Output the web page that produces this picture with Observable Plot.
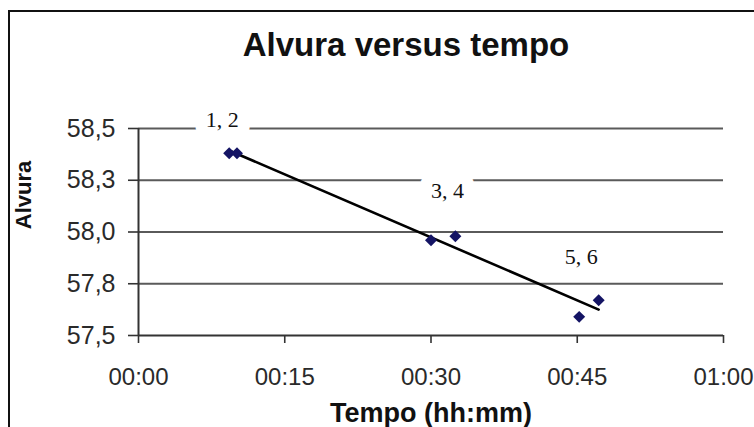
<!DOCTYPE html>
<html>
<head>
<meta charset="utf-8">
<script src="https://cdn.jsdelivr.net/npm/d3@7"></script>
<script src="https://cdn.jsdelivr.net/npm/@observablehq/plot@0.6"></script>
<style>
  html, body { margin: 0; padding: 0; background: #fff; overflow: hidden; }
  #wrap { position: relative; width: 754px; height: 427px; overflow: hidden; font-family: "Liberation Sans", Arial, sans-serif; }
  #frame { position: absolute; left: 8px; top: 10px; width: 900px; height: 600px; border-left: 2px solid #111; border-top: 2px solid #111; pointer-events: none; }
  #title { box-sizing: border-box; height: 72px; padding-top: 28px; width: 812px; text-align: center; font-size: 33px; line-height: 33px; font-weight: bold; color: #111; margin: 0; }
  svg { display: block; }
</style>
</head>
<body>
<div id="wrap">
  <div id="title">Alvura versus tempo</div>
  <div id="chart"></div>
  <div id="frame"></div>
</div>
<script>
// Data (time in minutes since 00:00, brightness "Alvura")
const tempoMin = [9.3, 10.1, 30.0, 32.5, 45.2, 47.2];
const alvura   = [58.38, 58.38, 57.96, 57.98, 57.59, 57.67];

// Point-pair labels
const labelText = ["1, 2", "3, 4", "5, 6"];
const labelX    = [8.6, 31.7, 45.4];
const labelY    = [58.54, 58.20, 57.88];

// Axis ticks
const xTicks      = [0, 15, 30, 45, 60];
const xTickLabels = ["00:00", "00:15", "00:30", "00:45", "01:00"];
const yTicks      = [57.5, 57.75, 58.0, 58.25, 58.5];
const yTickLabels = ["57,5", "57,8", "58,0", "58,3", "58,5"];

const points = tempoMin.map((t, i) => ({t, a: alvura[i]}));
const labels = labelText.map((s, i) => ({s, x: labelX[i], y: labelY[i]}));

const font = "'Liberation Sans', Arial, sans-serif";

const chart = Plot.plot({
  width: 754,
  height: 355,
  marginLeft: 138,
  marginRight: 31,
  marginTop: 56,
  marginBottom: 92,
  style: {fontFamily: font, background: "white", overflow: "visible"},
  x: {domain: [0, 60]},
  y: {domain: [57.5, 58.5]},
  marks: [
    Plot.ruleY(yTicks.slice(1), {stroke: "#5a5a5a", strokeWidth: 1.8}),
    Plot.ruleY([57.5], {stroke: "#333", strokeWidth: 2}),
    Plot.ruleX([0], {stroke: "#333", strokeWidth: 2}),
    Plot.axisX({
      ticks: xTicks,
      tickFormat: (d) => xTickLabels[xTicks.indexOf(d)],
      tickSize: 8, tickPadding: 24,
      stroke: "#333", strokeWidth: 1.6,
      fontSize: 24, fill: "#2a2a2a",
      label: null
    }),
    Plot.axisY({
      ticks: yTicks,
      tickFormat: (d) => yTickLabels[yTicks.indexOf(d)],
      tickSize: 10, tickPadding: 13,
      stroke: "#333", strokeWidth: 1.6,
      fontSize: 25, fill: "#2a2a2a",
      label: null
    }),
    Plot.text(["Tempo (hh:mm)"], {
      frameAnchor: "bottom", lineAnchor: "middle", dy: 78,
      fontSize: 27, fontWeight: "bold", fill: "#111"
    }),
    Plot.text(["Alvura"], {
      frameAnchor: "left", rotate: -90, lineAnchor: "middle", textAnchor: "middle",
      dx: -115, dy: -37, fontSize: 22, fontWeight: "bold", fill: "#111"
    }),
    Plot.text(labels, {
      x: "x", y: "y", text: "s",
      fontFamily: "'Liberation Serif', 'Times New Roman', serif",
      fontSize: 22, fill: "#111",
      stroke: "white", strokeWidth: 24, strokeLinejoin: "round", paintOrder: "stroke",
      lineAnchor: "middle"
    }),
    Plot.linearRegressionY(points, {x: "t", y: "a", stroke: "#000", strokeWidth: 2.6, ci: 0}),
    Plot.dot(points, {x: "t", y: "a", symbol: "diamond2", r: 5.4, fill: "#141464", stroke: "none"})
  ]
});
document.getElementById("chart").appendChild(chart);
</script>
</body>
</html>
